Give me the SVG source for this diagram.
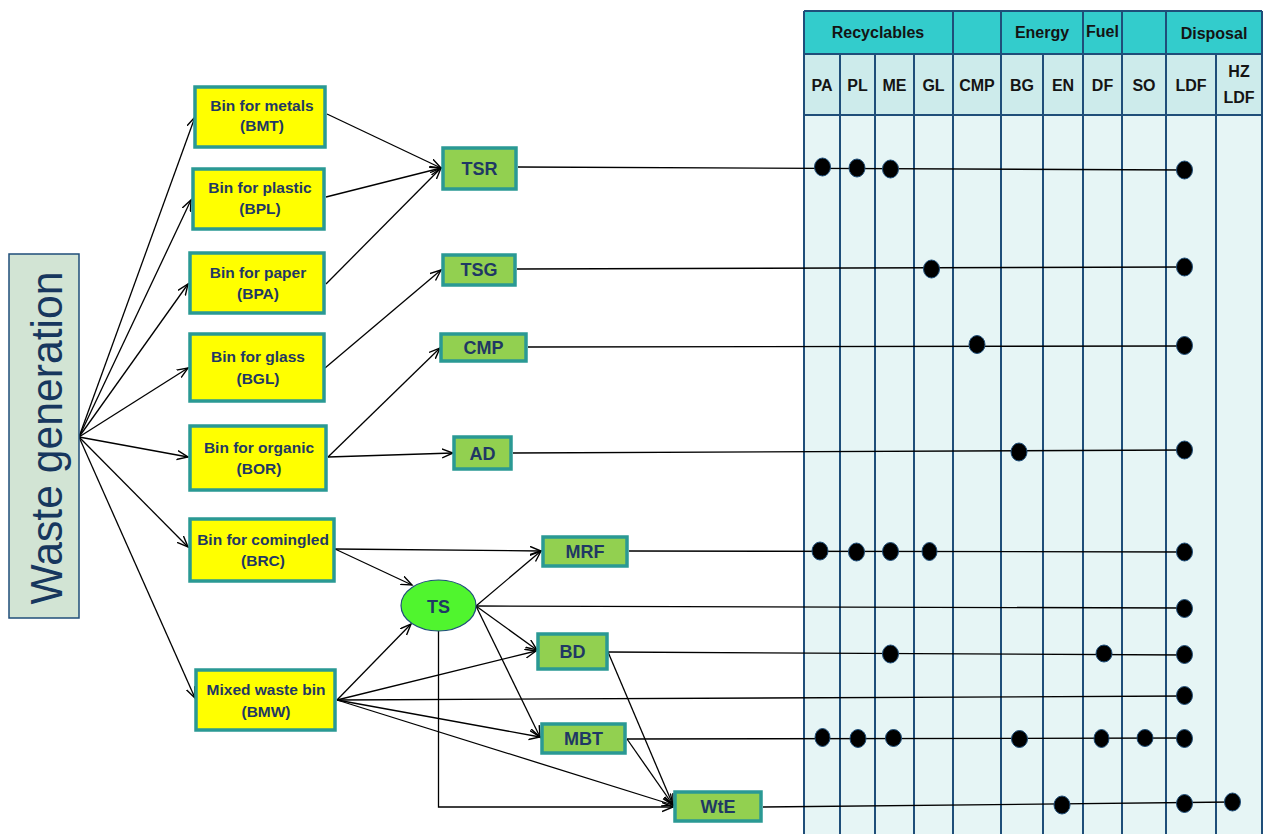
<svg xmlns="http://www.w3.org/2000/svg" width="1263" height="834" viewBox="0 0 1263 834">
  <defs>
    <style>
      .bin { fill: #FFFF00; stroke: #2A9994; stroke-width: 3.5; }
      .proc { fill: #92D050; stroke: #2A9994; stroke-width: 3.5; }
      .ts { fill: #50F52E; stroke: #1F4E79; stroke-width: 1.2; }
      .nt { font-family: "Liberation Sans", Arial, sans-serif; font-weight: bold; fill: #1F3864; text-anchor: middle; }
      .bt { font-size: 15.5px; }
      .pt { font-size: 18px; }
      .ht { font-family: "Liberation Sans", Arial, sans-serif; font-weight: bold; fill: #141414; text-anchor: middle; font-size: 16px; }
      .grid { stroke: #1F4E79; stroke-width: 2; fill: none; }
      .c { stroke: #000; stroke-width: 1.3; fill: none; }
      .a { marker-end: url(#arr); }
      .dot { fill: #000; stroke: #1F4E79; stroke-width: 1; }
    </style>
    <marker id="arr" markerUnits="userSpaceOnUse" markerWidth="14" markerHeight="12" refX="11" refY="5" orient="auto" viewBox="0 0 14 12">
      <path d="M0,0.5 L11,5 L0,9.5" fill="none" stroke="#000" stroke-width="1.4"/>
    </marker>
  </defs>
  <rect width="1263" height="834" fill="#FFFFFF"/>

  <!-- Table -->
  <g id="table">
    <rect x="804" y="11" width="458" height="43" fill="#33CCCC"/>
    <rect x="804" y="54" width="458" height="61" fill="#CDEBEB"/>
    <rect x="804" y="115" width="458" height="719" fill="#E6F5F5"/>
    <line class="grid" x1="804" y1="11" x2="1262" y2="11" stroke-width="2.5"/>
    <line class="grid" x1="804" y1="54" x2="1262" y2="54"/>
    <line class="grid" x1="804" y1="115" x2="1262" y2="115"/>
    <line class="grid" x1="804" y1="11" x2="804" y2="834"/>
    <line class="grid" x1="840" y1="54" x2="840" y2="834"/>
    <line class="grid" x1="875" y1="54" x2="875" y2="834"/>
    <line class="grid" x1="914" y1="54" x2="914" y2="834"/>
    <line class="grid" x1="953" y1="11" x2="953" y2="834"/>
    <line class="grid" x1="1001" y1="11" x2="1001" y2="834"/>
    <line class="grid" x1="1043" y1="54" x2="1043" y2="834"/>
    <line class="grid" x1="1083" y1="11" x2="1083" y2="834"/>
    <line class="grid" x1="1122" y1="11" x2="1122" y2="834"/>
    <line class="grid" x1="1166" y1="11" x2="1166" y2="834"/>
    <line class="grid" x1="1216" y1="54" x2="1216" y2="834"/>
    <line class="grid" x1="1262" y1="11" x2="1262" y2="834"/>
    <text class="ht" x="878" y="38">Recyclables</text>
    <text class="ht" x="1042" y="38">Energy</text>
    <text class="ht" x="1102.5" y="37" font-size="14">Fuel</text>
    <text class="ht" x="1214" y="39">Disposal</text>
    <text class="ht" x="822" y="91">PA</text>
    <text class="ht" x="857.5" y="91">PL</text>
    <text class="ht" x="894.5" y="91">ME</text>
    <text class="ht" x="933.5" y="91">GL</text>
    <text class="ht" x="977" y="91">CMP</text>
    <text class="ht" x="1022" y="91">BG</text>
    <text class="ht" x="1063" y="91">EN</text>
    <text class="ht" x="1102.5" y="91">DF</text>
    <text class="ht" x="1144" y="91">SO</text>
    <text class="ht" x="1191" y="91">LDF</text>
    <text class="ht" x="1239" y="77">HZ</text>
    <text class="ht" x="1239" y="103">LDF</text>
  </g>

  <!-- Connectors -->
  <g id="connectors">
    <line class="c a" x1="79" y1="437" x2="195" y2="117"/>
    <line class="c a" x1="79" y1="437" x2="191" y2="200"/>
    <line class="c a" x1="79" y1="437" x2="188" y2="284"/>
    <line class="c a" x1="79" y1="437" x2="188" y2="368"/>
    <line class="c a" x1="79" y1="437" x2="188" y2="457"/>
    <line class="c a" x1="79" y1="437" x2="188" y2="547"/>
    <line class="c a" x1="79" y1="437" x2="195" y2="698"/>

    <line class="c a" x1="327" y1="114" x2="441" y2="168"/>
    <line class="c a" x1="326" y1="197" x2="441" y2="168"/>
    <line class="c a" x1="326" y1="284" x2="441" y2="168"/>
    <line class="c a" x1="325" y1="368" x2="441" y2="270"/>
    <line class="c a" x1="328" y1="457" x2="440" y2="348"/>
    <line class="c a" x1="328" y1="457" x2="453" y2="453"/>
    <line class="c a" x1="335" y1="549" x2="541" y2="551"/>
    <line class="c a" x1="335" y1="549" x2="412" y2="585"/>

    <line class="c a" x1="476" y1="606" x2="541" y2="551"/>
    <line class="c a" x1="476" y1="606" x2="537" y2="650"/>
    <line class="c a" x1="476" y1="606" x2="540" y2="737"/>
    <polyline class="c a" points="438.5,631 438.5,807 673,807"/>

    <line class="c a" x1="337" y1="700" x2="411" y2="624"/>
    <line class="c a" x1="337" y1="700" x2="536" y2="651"/>
    <line class="c a" x1="337" y1="700" x2="540" y2="737"/>
    <line class="c a" x1="337" y1="700" x2="673" y2="805"/>
    <line class="c a" x1="608" y1="652" x2="673" y2="805"/>
    <line class="c a" x1="627" y1="739" x2="673" y2="805"/>

    <!-- outputs to table -->
    <line class="c" x1="518" y1="167" x2="1185" y2="170"/>
    <line class="c" x1="517" y1="269" x2="1185" y2="267"/>
    <line class="c" x1="528" y1="347" x2="1185" y2="346"/>
    <line class="c" x1="513" y1="453" x2="1185" y2="450"/>
    <line class="c" x1="629" y1="551" x2="1185" y2="552"/>
    <line class="c" x1="476" y1="606" x2="1185" y2="608"/>
    <line class="c" x1="608" y1="652" x2="1185" y2="655"/>
    <line class="c" x1="337" y1="700" x2="1185" y2="696"/>
    <line class="c" x1="627" y1="739" x2="1185" y2="738"/>
    <line class="c" x1="763" y1="807" x2="1232" y2="802"/>

    <ellipse class="dot" cx="822.5" cy="167" rx="8" ry="9"/>
    <ellipse class="dot" cx="857" cy="168" rx="8" ry="9"/>
    <ellipse class="dot" cx="890.5" cy="169" rx="8" ry="9"/>
    <ellipse class="dot" cx="1184.5" cy="170" rx="8" ry="9"/>

    <ellipse class="dot" cx="931.5" cy="269" rx="8" ry="9"/>
    <ellipse class="dot" cx="1184.5" cy="267" rx="8" ry="9"/>

    <ellipse class="dot" cx="977" cy="344.5" rx="8" ry="9"/>
    <ellipse class="dot" cx="1184.5" cy="345.5" rx="8" ry="9"/>

    <ellipse class="dot" cx="1019" cy="452" rx="8" ry="9"/>
    <ellipse class="dot" cx="1184.5" cy="450" rx="8" ry="9"/>

    <ellipse class="dot" cx="820" cy="551" rx="8" ry="9"/>
    <ellipse class="dot" cx="856.5" cy="552" rx="8" ry="9"/>
    <ellipse class="dot" cx="890.5" cy="551.5" rx="8" ry="9"/>
    <ellipse class="dot" cx="929.5" cy="551.5" rx="7.5" ry="9"/>
    <ellipse class="dot" cx="1184.5" cy="552" rx="8" ry="9"/>

    <ellipse class="dot" cx="1184.5" cy="608.5" rx="8" ry="9"/>

    <ellipse class="dot" cx="890.5" cy="654" rx="8" ry="9"/>
    <ellipse class="dot" cx="1104" cy="653.5" rx="8" ry="8.5"/>
    <ellipse class="dot" cx="1184.5" cy="654.5" rx="8" ry="9"/>

    <ellipse class="dot" cx="1184.5" cy="695.5" rx="8" ry="9"/>

    <ellipse class="dot" cx="822.5" cy="737.5" rx="7.5" ry="9"/>
    <ellipse class="dot" cx="858" cy="738.5" rx="8" ry="9"/>
    <ellipse class="dot" cx="893.5" cy="738" rx="8" ry="8.5"/>
    <ellipse class="dot" cx="1019.5" cy="739" rx="8" ry="8.5"/>
    <ellipse class="dot" cx="1101.5" cy="738.5" rx="7.5" ry="9"/>
    <ellipse class="dot" cx="1145" cy="738" rx="8" ry="8.5"/>
    <ellipse class="dot" cx="1184.5" cy="738.5" rx="8" ry="9"/>

    <ellipse class="dot" cx="1062" cy="805" rx="8" ry="9"/>
    <ellipse class="dot" cx="1184.5" cy="803.5" rx="8" ry="9"/>
    <ellipse class="dot" cx="1232.5" cy="802" rx="8" ry="9"/>
  </g>

  <!-- Nodes -->
  <g id="waste-generation">
    <rect x="9" y="254" width="70" height="364" fill="#D2E4D4" stroke="#1F4E79" stroke-width="1.5"/>
    <text transform="translate(62,438) rotate(-90)" font-family="Liberation Sans, Arial, sans-serif" font-size="45" fill="#17375E" text-anchor="middle" textLength="333" lengthAdjust="spacingAndGlyphs">Waste generation</text>
  </g>

  <g id="BMT">
    <rect class="bin" x="195" y="87" width="130" height="60"/>
    <text class="nt bt" x="262" y="111">Bin for metals</text>
    <text class="nt bt" x="262" y="131">(BMT)</text>
  </g>
  <g id="BPL">
    <rect class="bin" x="193" y="169" width="131" height="60"/>
    <text class="nt bt" x="260" y="193">Bin for plastic</text>
    <text class="nt bt" x="260" y="214">(BPL)</text>
  </g>
  <g id="BPA">
    <rect class="bin" x="190" y="253" width="134" height="60"/>
    <text class="nt bt" x="258" y="278">Bin for paper</text>
    <text class="nt bt" x="258" y="299">(BPA)</text>
  </g>
  <g id="BGL">
    <rect class="bin" x="190" y="334" width="134" height="67"/>
    <text class="nt bt" x="258" y="362">Bin for glass</text>
    <text class="nt bt" x="258" y="384">(BGL)</text>
  </g>
  <g id="BOR">
    <rect class="bin" x="190" y="426" width="136" height="64"/>
    <text class="nt bt" x="259" y="453">Bin for organic</text>
    <text class="nt bt" x="259" y="474">(BOR)</text>
  </g>
  <g id="BRC">
    <rect class="bin" x="190" y="519" width="144" height="62"/>
    <text class="nt bt" x="263" y="545">Bin for comingled</text>
    <text class="nt bt" x="263" y="566">(BRC)</text>
  </g>
  <g id="BMW">
    <rect class="bin" x="196" y="670" width="139" height="60"/>
    <text class="nt bt" x="266" y="695">Mixed waste bin</text>
    <text class="nt bt" x="266" y="717">(BMW)</text>
  </g>

  <g id="TSR">
    <rect class="proc" x="443" y="148" width="73" height="41"/>
    <text class="nt pt" x="479.5" y="175">TSR</text>
  </g>
  <g id="TSG">
    <rect class="proc" x="443" y="255" width="72" height="30"/>
    <text class="nt pt" x="479" y="276">TSG</text>
  </g>
  <g id="CMP">
    <rect class="proc" x="441" y="334" width="85" height="27"/>
    <text class="nt pt" x="483.5" y="354">CMP</text>
  </g>
  <g id="AD">
    <rect class="proc" x="454" y="437" width="57" height="32"/>
    <text class="nt pt" x="482.5" y="460">AD</text>
  </g>
  <g id="MRF">
    <rect class="proc" x="543" y="537" width="84" height="29"/>
    <text class="nt pt" x="585" y="558">MRF</text>
  </g>
  <g id="TS">
    <ellipse class="ts" cx="438.5" cy="605.5" rx="37.5" ry="25.5"/>
    <text class="nt pt" x="438.5" y="613">TS</text>
  </g>
  <g id="BD">
    <rect class="proc" x="538" y="634" width="69" height="35"/>
    <text class="nt pt" x="572.5" y="658">BD</text>
  </g>
  <g id="MBT">
    <rect class="proc" x="542" y="724" width="83" height="29"/>
    <text class="nt pt" x="583.5" y="745">MBT</text>
  </g>
  <g id="WtE">
    <rect class="proc" x="675" y="792" width="86" height="29"/>
    <text class="nt pt" x="718" y="813">WtE</text>
  </g>
</svg>
